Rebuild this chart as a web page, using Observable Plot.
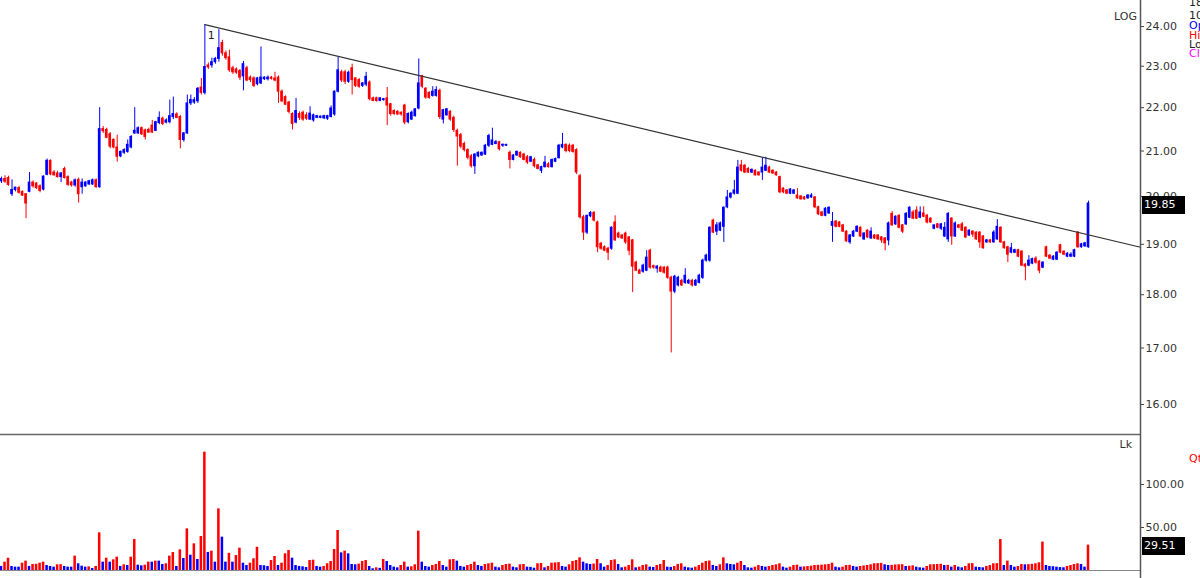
<!DOCTYPE html>
<html><head><meta charset="utf-8">
<script src="https://cdn.jsdelivr.net/npm/d3@7"></script>
<script src="https://cdn.jsdelivr.net/npm/@observablehq/plot@0.6"></script>
<style>
html,body{margin:0;padding:0;background:#fff;}
#wrap{position:relative;width:1200px;height:578px;overflow:hidden;font-family:"DejaVu Sans",sans-serif;background:#fff;}
#price,#vol{position:absolute;left:0;}
#price{top:0;} #vol{top:433px;}
.lbl{position:absolute;font-size:11px;line-height:12px;white-space:nowrap;color:#333;}
.box{position:absolute;left:1142px;width:43px;height:18px;background:#000;color:#fff;font-size:11px;line-height:18px;padding-left:2px;box-sizing:border-box;}
</style></head>
<body><div id="wrap">
<div id="price"></div>
<div id="vol"></div>
</div>
<script>
// ---- data ----
const ohlc = [
[20.33,20.42,20.28,20.38],[20.38,20.45,20.28,20.32],[20.40,20.44,20.22,20.25],[20.05,20.36,20.00,20.14],[20.14,20.20,20.10,20.19],
[20.18,20.22,20.05,20.08],[20.10,20.12,20.00,20.02],[20.05,20.06,19.53,19.85],[20.10,20.52,20.08,20.30],[20.30,20.34,20.18,20.22],
[20.28,20.30,20.15,20.18],[20.22,20.25,20.08,20.12],[20.15,20.45,20.12,20.43],[20.47,20.82,20.45,20.78],[20.78,20.80,20.45,20.48],
[20.52,20.56,20.44,20.46],[20.50,20.55,20.40,20.42],[20.42,20.52,20.30,20.50],[20.60,20.64,20.38,20.40],[20.42,20.45,20.22,20.25],
[20.30,20.33,20.20,20.24],[20.24,20.38,20.20,20.35],[20.36,20.40,19.86,20.05],[20.20,20.38,20.05,20.30],[20.22,20.32,20.20,20.30],
[20.26,20.35,20.24,20.33],[20.26,20.38,20.24,20.35],[20.35,20.38,20.18,20.20],[20.20,22.00,20.18,21.50],[21.50,21.56,21.40,21.45],
[21.48,21.52,21.28,21.30],[21.38,21.42,21.05,21.10],[21.25,21.28,21.05,21.08],[21.08,21.36,20.75,20.87],[20.88,21.00,20.85,20.98],
[20.96,21.05,20.92,21.02],[20.98,21.25,20.95,21.14],[21.08,21.35,21.05,21.32],[21.40,22.00,21.38,21.46],[21.40,21.55,21.38,21.52],
[21.52,21.55,21.35,21.38],[21.47,21.50,21.25,21.32],[21.48,21.52,21.40,21.42],[21.58,21.70,21.40,21.42],[21.46,21.68,21.44,21.66],
[21.64,21.90,21.60,21.76],[21.74,21.78,21.58,21.62],[21.65,21.74,21.62,21.70],[21.66,22.18,21.62,21.80],[21.78,22.25,21.72,21.85],
[21.84,21.88,21.74,21.76],[21.78,21.82,21.05,21.25],[21.25,21.42,21.20,21.40],[21.40,22.30,21.38,22.10],[22.10,22.30,22.05,22.18],
[22.12,22.24,22.08,22.18],[22.15,22.48,22.10,22.45],[22.48,22.70,22.30,22.35],[22.35,24.05,22.30,22.98],[23.02,23.08,22.92,22.97],
[23.02,23.20,22.95,23.10],[23.10,23.22,23.05,23.18],[23.18,23.92,23.10,23.45],[23.58,23.65,23.25,23.32],[23.32,23.38,23.15,23.20],
[23.22,23.40,22.85,22.90],[22.95,23.00,22.80,22.85],[22.92,22.96,22.80,22.84],[22.88,22.92,22.65,22.72],[22.75,23.12,22.40,23.05],
[22.95,23.00,22.62,22.65],[22.72,22.76,22.60,22.66],[22.70,22.74,22.48,22.52],[22.56,22.72,22.52,22.70],[22.58,23.48,22.55,22.72],
[22.68,22.74,22.65,22.72],[22.68,22.76,22.64,22.72],[22.72,22.75,22.66,22.69],[22.70,22.85,22.62,22.65],[22.72,22.76,22.10,22.38],
[22.38,22.42,22.12,22.15],[22.25,22.28,22.05,22.07],[22.12,22.15,21.85,21.90],[21.85,21.88,21.48,21.62],[21.65,22.22,21.62,21.92],
[21.85,21.90,21.70,21.76],[21.88,21.92,21.68,21.72],[21.82,21.88,21.70,21.74],[21.72,22.02,21.70,21.86],[21.70,21.85,21.66,21.82],
[21.76,21.82,21.74,21.80],[21.76,21.80,21.74,21.79],[21.75,21.82,21.72,21.80],[21.74,21.82,21.70,21.80],[21.78,22.04,21.76,21.98],
[21.84,22.40,21.80,22.38],[22.38,23.22,22.35,22.90],[22.85,22.90,22.60,22.65],[22.85,22.90,22.55,22.62],[22.62,22.88,22.58,22.84],
[22.95,23.05,22.30,22.66],[22.70,22.72,22.48,22.52],[22.66,22.70,22.46,22.50],[22.52,22.60,22.48,22.58],[22.55,22.85,22.50,22.74],
[22.60,22.64,22.16,22.20],[22.22,22.25,22.14,22.16],[22.22,22.25,22.13,22.16],[22.16,22.24,22.14,22.22],[22.18,22.22,22.15,22.20],
[22.22,22.48,21.58,22.05],[22.08,22.10,21.80,21.85],[21.92,21.95,21.82,21.85],[21.90,21.93,21.82,21.84],[21.88,21.90,21.80,21.84],
[22.05,22.08,21.60,21.65],[21.66,21.88,21.62,21.85],[21.72,21.92,21.70,21.88],[21.80,21.98,21.78,21.96],[21.98,23.18,21.95,22.58],
[22.75,22.78,22.45,22.50],[22.45,22.48,22.20,22.24],[22.35,22.38,22.20,22.23],[22.28,22.50,22.25,22.38],[22.28,22.50,22.25,22.42],
[22.40,22.44,21.72,21.78],[21.72,21.96,21.62,21.94],[21.82,21.98,21.80,21.96],[21.90,21.93,21.68,21.72],[21.76,21.80,21.42,21.48],
[21.46,21.50,20.66,21.33],[21.36,21.40,21.05,21.10],[21.16,21.20,20.98,21.02],[21.02,21.05,20.80,20.85],[20.88,20.92,20.62,20.66],
[20.66,20.94,20.48,20.92],[20.88,20.98,20.85,20.96],[20.90,20.98,20.88,20.96],[20.92,21.15,20.90,21.12],[21.12,21.38,21.08,21.34],
[21.14,21.52,21.12,21.24],[21.16,21.24,21.14,21.20],[21.20,21.22,21.00,21.04],[21.12,21.16,21.08,21.14],[21.12,21.15,21.10,21.14],
[20.96,21.00,20.60,20.80],[20.80,20.92,20.78,20.90],[20.90,21.00,20.88,20.98],[20.96,20.98,20.84,20.86],[20.92,20.95,20.78,20.80],
[20.86,20.90,20.70,20.74],[20.76,20.88,20.74,20.86],[20.80,20.84,20.62,20.66],[20.68,20.70,20.58,20.60],[20.56,20.66,20.50,20.64],
[20.64,20.88,20.62,20.74],[20.70,20.74,20.62,20.64],[20.64,20.82,20.62,20.80],[20.76,20.84,20.74,20.82],[20.84,21.15,20.82,21.12],
[21.08,21.40,21.05,21.14],[21.14,21.16,20.96,21.00],[21.12,21.16,20.96,21.00],[21.12,21.15,20.95,20.98],[21.02,21.05,20.48,20.52],
[20.44,20.48,19.52,19.56],[19.56,19.60,19.08,19.24],[19.24,19.60,19.20,19.59],[19.58,19.68,19.55,19.65],[19.65,19.68,19.46,19.49],
[19.45,19.48,18.83,18.94],[19.01,19.04,18.88,18.91],[18.94,18.97,18.85,18.87],[18.91,18.94,18.67,18.83],[18.91,19.36,18.88,19.34],
[19.45,19.59,19.06,19.08],[19.22,19.25,19.12,19.14],[19.18,19.20,19.10,19.12],[19.22,19.25,19.00,19.04],[19.14,19.16,18.77,18.87],
[19.08,19.10,18.04,18.55],[18.63,18.66,18.45,18.47],[18.47,18.50,18.40,18.41],[18.45,18.60,18.42,18.57],[18.47,18.87,18.45,18.73],
[18.87,18.90,18.50,18.53],[18.56,18.58,18.50,18.53],[18.51,18.57,18.42,18.55],[18.53,18.56,18.43,18.45],[18.53,18.55,18.40,18.43],
[18.53,18.56,18.30,18.33],[18.33,18.36,16.91,18.06],[18.06,18.38,18.02,18.35],[18.18,18.36,18.15,18.33],[18.27,18.30,18.16,18.18],
[18.23,18.51,18.20,18.37],[18.22,18.30,18.20,18.27],[18.27,18.30,18.15,18.18],[18.18,18.30,18.16,18.27],[18.23,18.40,18.21,18.37],
[18.33,18.70,18.30,18.67],[18.67,18.80,18.64,18.77],[18.67,19.36,18.64,19.34],[19.49,19.52,19.22,19.24],[19.26,19.45,19.18,19.39],
[19.28,19.46,19.26,19.43],[19.36,19.78,19.04,19.76],[19.77,20.13,19.74,19.98],[19.98,20.08,19.95,20.06],[20.06,20.35,20.03,20.13],
[20.06,20.79,20.04,20.63],[20.68,20.79,20.53,20.56],[20.67,20.70,20.50,20.52],[20.60,20.63,20.50,20.52],[20.52,20.60,20.50,20.58],
[20.56,20.58,20.44,20.46],[20.52,20.54,20.44,20.46],[20.52,20.84,20.35,20.63],[20.56,20.86,20.54,20.67],[20.63,20.66,20.50,20.52],
[20.56,20.58,20.48,20.50],[20.52,20.54,20.44,20.46],[20.42,20.44,20.06,20.09],[20.17,20.19,20.06,20.09],[20.13,20.15,20.04,20.06],
[20.06,20.17,20.04,20.15],[20.06,20.15,20.04,20.13],[20.02,20.17,19.94,19.96],[20.00,20.02,19.92,19.94],[19.98,20.00,19.92,19.94],
[19.96,20.04,19.94,20.02],[19.98,20.06,19.96,20.02],[19.98,20.00,19.74,19.77],[19.77,19.79,19.60,19.62],[19.66,19.68,19.57,19.59],
[19.59,19.76,19.57,19.74],[19.64,19.78,19.62,19.76],[19.38,19.66,19.04,19.46],[19.47,19.49,19.34,19.36],[19.45,19.47,19.34,19.36],
[19.39,19.41,19.24,19.26],[19.26,19.28,19.04,19.06],[19.04,19.20,19.00,19.18],[19.16,19.28,19.14,19.26],[19.26,19.38,19.24,19.36],
[19.34,19.36,19.14,19.16],[19.10,19.24,19.08,19.22],[19.28,19.30,19.12,19.14],[19.12,19.34,19.10,19.26],[19.18,19.20,19.10,19.12],
[19.18,19.20,19.08,19.10],[19.14,19.16,19.02,19.08],[19.12,19.14,18.87,19.02],[19.08,19.46,18.97,19.43],[19.63,19.68,19.37,19.39],
[19.41,19.59,19.39,19.57],[19.59,19.61,19.32,19.34],[19.39,19.41,19.22,19.26],[19.41,19.66,19.39,19.63],[19.55,19.78,19.53,19.76],
[19.66,19.70,19.51,19.53],[19.70,19.78,19.51,19.53],[19.55,19.78,19.53,19.66],[19.64,19.78,19.55,19.57],[19.59,19.62,19.42,19.45],
[19.53,19.55,19.43,19.45],[19.32,19.40,19.30,19.39],[19.41,19.43,19.32,19.34],[19.32,19.43,19.28,19.41],[19.16,19.45,19.14,19.34],
[19.10,19.66,19.04,19.63],[19.53,19.55,18.98,19.16],[19.16,19.46,19.14,19.43],[19.39,19.41,19.32,19.34],[19.41,19.45,19.26,19.28],
[19.34,19.36,19.12,19.14],[19.18,19.30,19.16,19.28],[19.26,19.28,19.14,19.20],[19.24,19.26,19.08,19.10],[19.24,19.26,18.92,19.04],
[19.16,19.18,18.90,18.92],[19.04,19.10,19.02,19.08],[19.08,19.10,19.02,19.04],[19.04,19.28,19.02,19.24],[19.10,19.51,19.08,19.36],
[19.34,19.36,19.02,19.04],[19.04,19.06,18.90,18.92],[18.94,18.96,18.63,18.79],[18.83,19.02,18.81,18.92],[18.83,18.90,18.81,18.88],
[18.88,18.90,18.73,18.75],[18.85,18.87,18.55,18.57],[18.59,18.61,18.27,18.55],[18.57,18.77,18.55,18.67],[18.61,18.72,18.59,18.70],
[18.71,18.75,18.60,18.63],[18.65,18.67,18.41,18.47],[18.53,18.65,18.51,18.63],[18.94,18.96,18.73,18.75],[18.77,18.79,18.69,18.71],
[18.69,18.77,18.67,18.75],[18.69,18.85,18.67,18.83],[18.98,19.00,18.81,18.83],[18.85,18.87,18.77,18.79],[18.75,18.83,18.73,18.81],
[18.75,18.83,18.73,18.79],[18.75,18.90,18.73,18.88],[19.24,19.26,18.92,18.94],[18.94,19.02,18.92,19.00],[18.96,19.04,18.94,19.02],
[18.94,19.90,18.92,19.85]
];
const volume = [
4.7,9.7,14.3,4.7,3.9,3.9,8.5,10.9,4.7,7,7.2,8.5,9.7,5.8,4.7,3.9,6.6,6.8,4.7,3.9,3.9,16.7,7.8,5,3.9,4.2,2.3,4.7,
43.8,9.7,14.3,9.7,12.4,15.5,4.7,6.6,5.8,15.5,36,6.2,5.4,6.2,9.7,9.7,10.9,10.9,7,7.8,16.7,20.9,4.7,24,14,48.4,17.8,31,12.8,39.5,137.6,
21,22.5,9.7,71.7,38.8,9.7,20,9.7,17.4,26,8.5,5.8,8.5,13.6,27,5.8,5.5,4.7,11.6,16.3,5.8,8.5,19.4,23.3,14.3,5.8,4.7,4.3,
3.5,11.6,12,4.7,3.9,4.7,7.8,10.5,24.4,46.5,20.5,22.5,19.4,7,6.6,7.4,10.5,11.6,4.7,2,3.1,2.5,12.8,10.5,5.8,3.9,3.1,5.8,
9.7,3.9,4.3,6.6,45.7,
9.7,4.7,3.9,5.8,7,10.5,5.8,3.9,12.4,12.8,10.9,4.7,3.9,5.8,7,9.7,5.8,4.7,7,7.8,8.5,3.9,3.1,5.8,7,7.4,3.9,3.1,6.6,7.0,
3.9,3.6,2.7,7.8,8.2,3.1,4.7,8.5,8.8,9.2,4.7,3.9,6.6,10.5,11.6,14.7,9.7,7.8,7,7.5,12.8,7.8,3.9,5.8,11.6,12.4,7,3.1,3.9,5.8,
12.4,3.1,3.9,5.8,6.6,3.9,3.5,5.8,7,11.6,3.9,3.6,4.7,7,7.8,3.9,3.1,2.7,3.9,5.8,8.5,10.5,11,5.8,4.7,6.6,14.7,7.8,7,6.6,
8.5,10.5,5.8,3.1,2.7,3.9,5.8,4.7,3.9,4.7,5.8,6.6,7.8,3.9,2.7,3.9,5.8,6.2,3.9,
4.2,4.6,5.0,5.8,6.0,6.2,6.6,7.0,8.5,3.9,3.1,3.9,5.8,6.0,4.7,3.9,4.7,5.3,5.8,6.6,7.8,8.0,8.3,6.6,5.8,6.0,6.4,6.6,6.8,4.7,
5.0,5.4,3.9,3.1,2.7,4.7,6.6,6.8,7.0,7.2,5.8,6.0,3.9,5.8,3.9,3.1,4.7,7.8,8.0,3.9,3.5,3.1,4.7,5.8,7.8,8.0,
36,5.8,10.9,5.8,3.9,4.7,7,6.6,6.8,7.2,7.8,8.9,33,5.8,4.7,4.4,3.9,3.4,3.2,4.7,5.8,7,7.8,7,3.9,29.51
];
const priceTicks = [16, 17, 18, 19, 20, 21, 22, 23, 24];
const volumeTicks = [50, 100];
const priceDomain = [15.51, 24.68];
const volumeDomain = [0, 159.3];
const xDomain = [-0.285, 324.83];
const trendPoints = [{i: 58, price: 24.05}, {i: 324.83, price: 18.94}];
const lastClose = 19.85;
const lastVolume = 29.51;
const BLUE = "#0000ff", RED = "#ff0000";

// ---- build ----
const candles = ohlc.map(([o, h, l, c], i) => ({i, o, h, l, c, col: c >= o ? BLUE : RED}));
const vols = volume.map((v, i) => ({i, v, col: i > 0 && v > volume[i - 1] ? RED : BLUE}));

const axisStyle = {anchor: "right", tickSize: 3, tickPadding: 2, fontSize: 11, fill: "#333", stroke: "#444", label: null, tickFormat: d => d.toFixed(2)};

const price = Plot.plot({
  width: 1200, height: 433, marginLeft: 0, marginRight: 60, marginTop: 0, marginBottom: 0,
  style: {fontFamily: "DejaVu Sans, sans-serif", background: "transparent", overflow: "visible"},
  x: {domain: xDomain, axis: null},
  y: {type: "log", domain: priceDomain, axis: null},
  color: {type: "identity"},
  marks: [
    Plot.ruleX(candles, {x: "i", y1: "l", y2: "h", stroke: "col", strokeWidth: 1}),
    Plot.rect(candles, {x1: d => d.i - 0.38, x2: d => d.i + 0.38, y1: d => Math.min(d.o, d.c), y2: d => Math.max(d.o, d.c), fill: "col", insetTop: -0.5, insetBottom: -0.5}),
    Plot.line(trendPoints, {x: "i", y: "price", stroke: "#333", strokeWidth: 1.2}),
    Plot.text([trendPoints[0]], {x: "i", y: "price", text: () => "1", dx: 3, dy: 11, textAnchor: "start", fontSize: 11, fill: "#222"}),
    Plot.ruleX([xDomain[1]], {y1: priceDomain[0], y2: priceDomain[1], stroke: "#555", strokeWidth: 1.5}),
    Plot.axisY(priceTicks, axisStyle)
  ]
});
document.getElementById("price").appendChild(price);

const vol = Plot.plot({
  width: 1200, height: 145, marginLeft: 0, marginRight: 60, marginTop: 0, marginBottom: 8,
  style: {fontFamily: "DejaVu Sans, sans-serif", background: "transparent", overflow: "visible"},
  x: {domain: xDomain, axis: null},
  y: {domain: volumeDomain, axis: null},
  color: {type: "identity"},
  marks: [
    Plot.rect(vols, {x1: d => d.i - 0.36, x2: d => d.i + 0.36, y1: 0, y2: "v", fill: "col"}),
    Plot.ruleY([0], {stroke: "#888", strokeWidth: 1}),
    Plot.ruleY([volumeDomain[1]], {stroke: "#666", strokeWidth: 1.5, dy: 1}),
    Plot.ruleX([xDomain[1]], {y1: -12, y2: volumeDomain[1], stroke: "#555", strokeWidth: 1.5}),
    Plot.axisY(volumeTicks, axisStyle)
  ]
});
document.getElementById("vol").appendChild(vol);

// ---- overlay labels ----
const wrap = document.getElementById("wrap");
function label(text, css) {
  const d = document.createElement("div");
  d.className = "lbl";
  d.textContent = text;
  Object.assign(d.style, css);
  wrap.appendChild(d);
  return d;
}
label("LOG", {right: "63px", top: "11px", color: "#333"});
label("18", {left: "1189px", top: "-3px", color: "#222"});
label("10", {left: "1189px", top: "10px", color: "#222"});
label("Open", {left: "1189px", top: "20px", color: "#0000ff"});
label("High", {left: "1189px", top: "30px", color: "#ff0000"});
label("Low", {left: "1189px", top: "39px", color: "#222"});
label("Close", {left: "1189px", top: "48px", color: "#ff00ff"});
label("Lk", {right: "68px", top: "439px", color: "#333"});
label("Qty", {left: "1189px", top: "453px", color: "#ff0000"});

const py = price.scale("y").apply(lastClose);
const b1 = document.createElement("div");
b1.className = "box"; b1.textContent = lastClose.toFixed(2);
b1.style.top = (py - 7) + "px";
wrap.appendChild(b1);

const vy = vol.scale("y").apply(lastVolume) + 433;
const b2 = document.createElement("div");
b2.className = "box"; b2.textContent = lastVolume.toFixed(2);
b2.style.top = (vy - 8) + "px";
wrap.appendChild(b2);
</script>
</body></html>
